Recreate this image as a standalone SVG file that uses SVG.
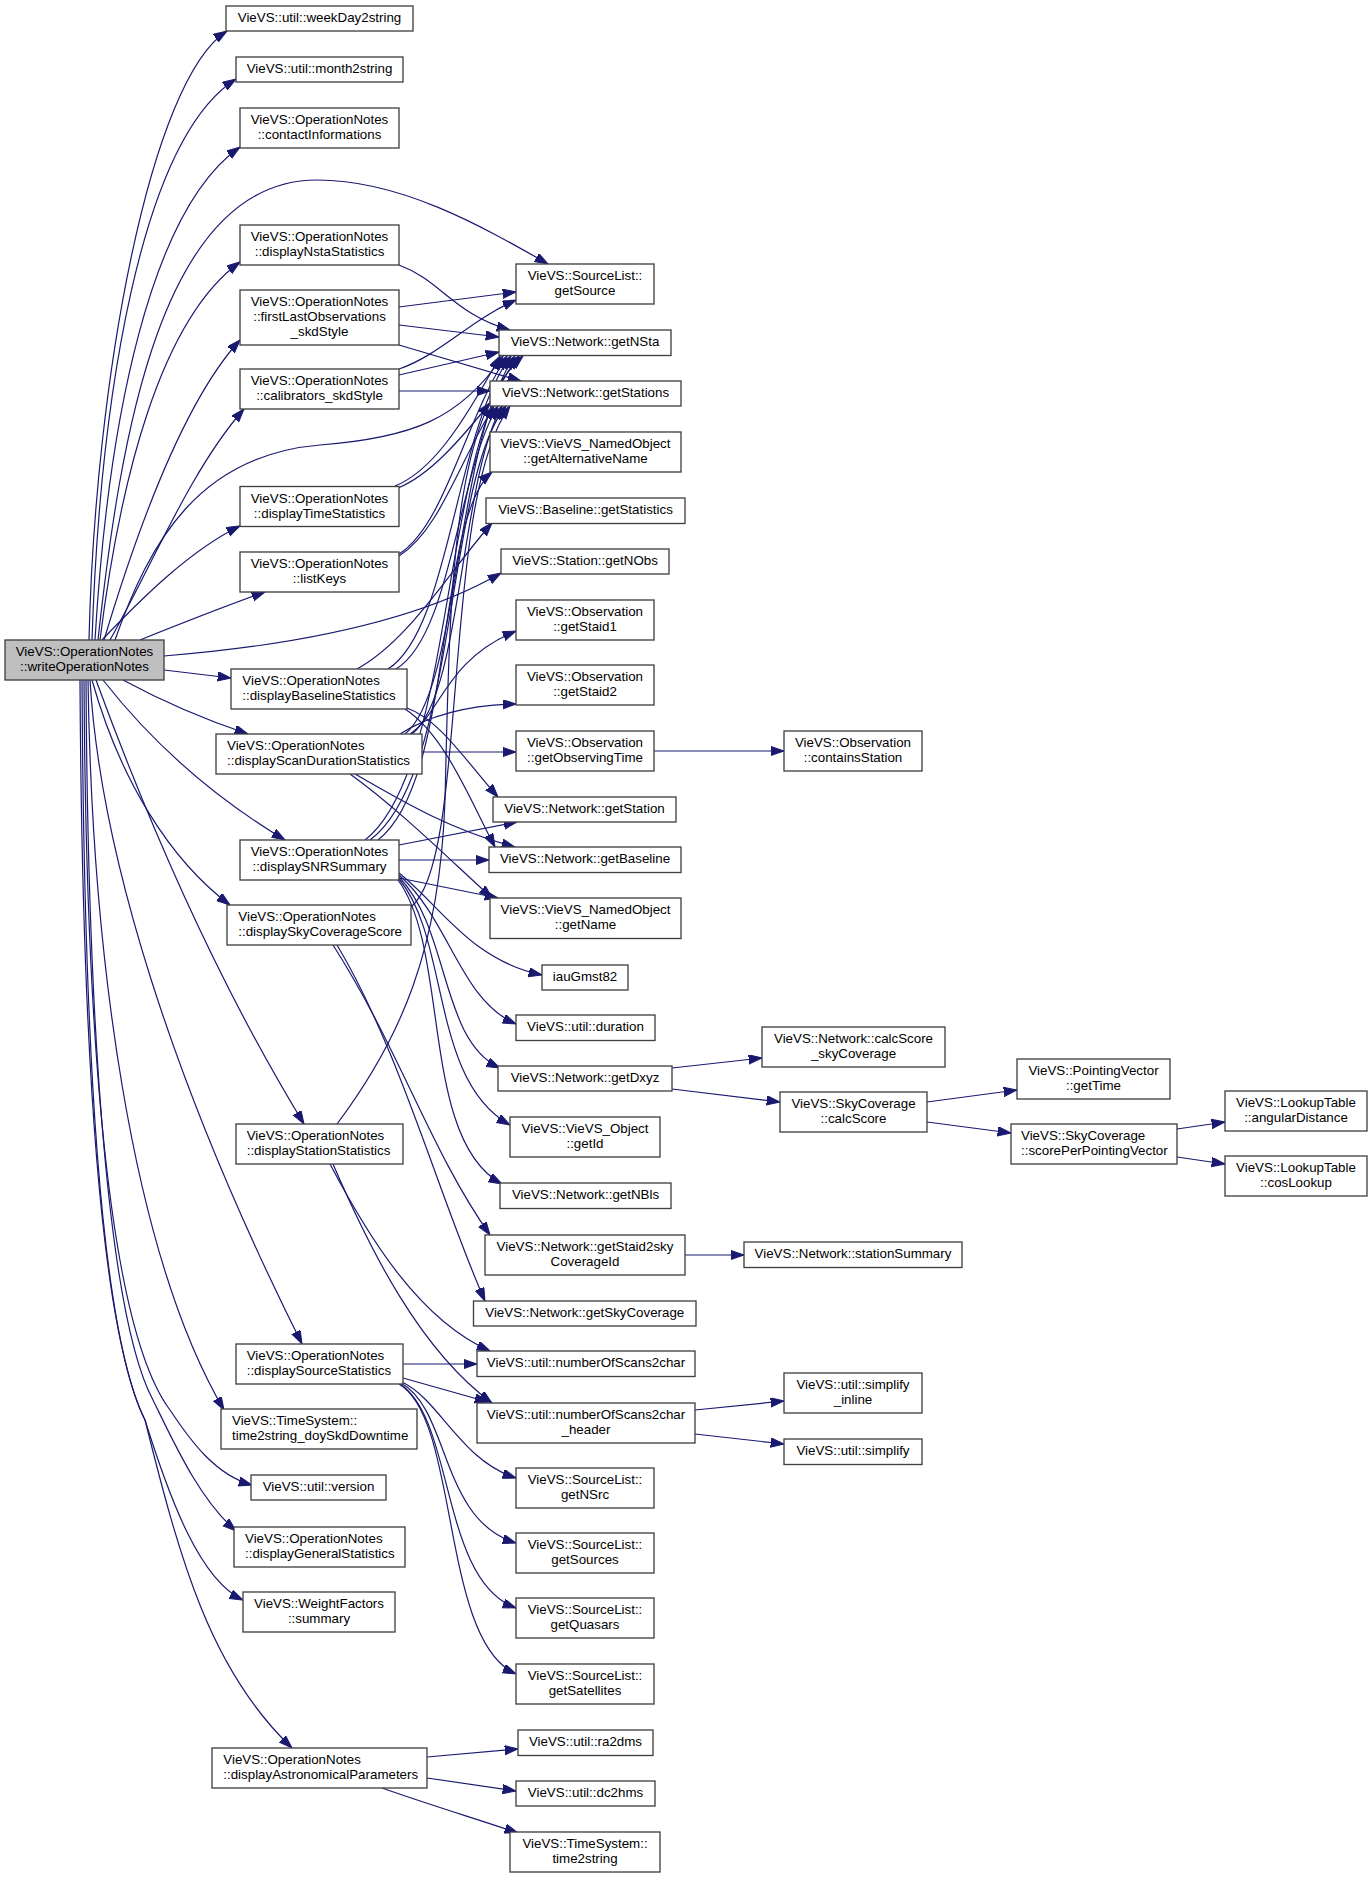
<svg xmlns="http://www.w3.org/2000/svg" width="1372" height="1878" viewBox="0 0 1372 1878">
<style>
.n rect{fill:#ffffff;stroke:#404040;stroke-width:1.33}
.root rect{fill:#bfbfbf}
text{font-family:"Liberation Sans",Arial,Helvetica,sans-serif;font-size:13.33px;fill:#000000}
.c{text-anchor:middle}
#edges path{fill:none;stroke:#191970;stroke-width:1.2;marker-end:url(#arr)}
</style>
<defs>
<marker id="arr" markerUnits="userSpaceOnUse" markerWidth="15" markerHeight="11" refX="13.3" refY="4.65" orient="auto">
<path d="M0,0 L13.3,4.65 L0,9.3 z" fill="#191970" stroke="#191970" stroke-width="1"/>
</marker>
</defs>
<rect x="0" y="0" width="1372" height="1878" fill="#ffffff"/>
<g id="edges">
<path d="M 89,640 C 95,380 150,80 227,31"/>
<path d="M 92,640 C 100,400 140,140 236,79"/>
<path d="M 95,640 C 108,420 150,210 240,147"/>
<path d="M 98,640 C 120,440 160,180 317,180 C 400,180 480,225 548,264"/>
<path d="M 100,640 C 120,480 160,320 240,262"/>
<path d="M 104,640 C 140,520 185,400 240,340"/>
<path d="M 110,640 C 150,570 190,470 244,409"/>
<path d="M 115,640 C 150,540 200,455 320,445 C 410,438 460,420 503,356"/>
<path d="M 102,640 C 140,600 190,550 240,526"/>
<path d="M 140,640 C 180,624 220,608 265,592"/>
<path d="M 164,656 C 300,645 420,620 501,573"/>
<path d="M 164,670 L 231,678"/>
<path d="M 123,680 C 160,700 200,718 248,734"/>
<path d="M 103,680 C 150,740 210,795 285,840"/>
<path d="M 92,680 C 120,780 170,860 230,905"/>
<path d="M 96,680 C 140,800 210,970 304,1124"/>
<path d="M 90,680 C 100,850 170,1080 302,1344"/>
<path d="M 88,680 C 92,950 130,1250 224,1410"/>
<path d="M 84,680 C 86,1050 110,1330 170,1410 C 190,1440 215,1475 252,1485"/>
<path d="M 86,680 C 88,1050 110,1320 153,1400 C 175,1445 200,1500 236,1531"/>
<path d="M 82,680 C 84,1050 100,1330 145,1420 C 170,1500 200,1580 243,1600"/>
<path d="M 80,680 C 82,1050 100,1330 145,1420 C 180,1560 210,1670 292,1748"/>
<path d="M 399,265 C 440,280 455,315 510,330"/>
<path d="M 399,307 L 516,292"/>
<path d="M 399,325 L 499,337"/>
<path d="M 399,345 L 521,381"/>
<path d="M 399,369 C 440,355 470,320 516,300"/>
<path d="M 399,375 L 499,352"/>
<path d="M 399,391 L 490,391"/>
<path d="M 395,486 C 430,472 460,430 500,356"/>
<path d="M 398,488 C 430,475 460,440 490,403"/>
<path d="M 399,554 C 445,525 465,420 507,356"/>
<path d="M 399,556 C 440,530 460,460 494,406"/>
<path d="M 357,669 C 410,640 450,570 492,523"/>
<path d="M 388,669 C 450,630 455,430 511,356"/>
<path d="M 396,669 C 452,635 458,470 498,406"/>
<path d="M 407,708 C 440,720 465,760 498,797"/>
<path d="M 405,709 C 445,735 470,800 495,847"/>
<path d="M 400,734 C 430,715 470,705 516,704"/>
<path d="M 410,734 C 440,715 445,660 516,631"/>
<path d="M 405,734 C 460,690 455,440 515,356"/>
<path d="M 412,734 C 462,695 460,480 502,406"/>
<path d="M 422,752 L 516,752"/>
<path d="M 355,774 C 400,800 450,830 515,847"/>
<path d="M 350,774 C 400,810 450,860 492,898"/>
<path d="M 365,840 C 455,770 440,450 519,356"/>
<path d="M 370,840 C 458,775 445,480 506,406"/>
<path d="M 378,840 C 455,780 435,520 492,472"/>
<path d="M 399,845 L 517,822"/>
<path d="M 399,860 L 489,860"/>
<path d="M 399,878 L 498,898"/>
<path d="M 399,873 C 440,905 470,960 542,975"/>
<path d="M 399,875 C 450,920 460,1000 516,1024"/>
<path d="M 399,877 C 450,930 440,1040 500,1068"/>
<path d="M 399,879 C 450,940 430,1080 510,1125"/>
<path d="M 398,880 C 450,950 420,1140 502,1184"/>
<path d="M 411,907 C 470,860 440,500 510,406"/>
<path d="M 333,945 C 400,1050 430,1150 490,1235"/>
<path d="M 337,945 C 400,1050 440,1200 485,1301"/>
<path d="M 337,1124 C 400,1040 440,950 445,800 C 450,600 450,420 523,356"/>
<path d="M 330,1164 C 370,1240 420,1320 490,1351"/>
<path d="M 333,1164 C 370,1250 420,1350 492,1403"/>
<path d="M 403,1364 L 477,1364"/>
<path d="M 403,1378 L 488,1402"/>
<path d="M 402,1382 C 440,1400 460,1460 516,1478"/>
<path d="M 401,1383 C 450,1410 440,1520 516,1543"/>
<path d="M 400,1384 C 455,1420 440,1580 516,1608"/>
<path d="M 399,1384 C 460,1420 440,1640 516,1674"/>
<path d="M 427,1757 L 518,1749"/>
<path d="M 427,1778 L 516,1791"/>
<path d="M 382,1788 C 430,1805 480,1820 518,1833"/>
<path d="M 654,751 L 784,751"/>
<path d="M 672,1068 L 762,1058"/>
<path d="M 672,1089 L 780,1102"/>
<path d="M 927,1102 L 1017,1090"/>
<path d="M 927,1122 L 1011,1133"/>
<path d="M 1177,1129 L 1225,1122"/>
<path d="M 1177,1157 L 1225,1164"/>
<path d="M 685,1255 L 744,1255"/>
<path d="M 695,1410 L 784,1401"/>
<path d="M 695,1434 L 784,1444"/>
</g>
<g id="n_weekDay2string" class="n"><rect x="226" y="6" width="187" height="25"/><text class="c" x="319.5" y="22.3">VieVS::util::weekDay2string</text></g>
<g id="n_month2string" class="n"><rect x="236" y="57" width="167" height="25"/><text class="c" x="319.5" y="73.3">VieVS::util::month2string</text></g>
<g id="n_contactInformations" class="n"><rect x="240" y="108" width="159" height="40"/><text class="c" x="319.5" y="124.3">VieVS::OperationNotes</text><text class="c" x="319.5" y="139">::contactInformations</text></g>
<g id="n_displayNstaStatistics" class="n"><rect x="240" y="225" width="159" height="40"/><text class="c" x="319.5" y="241.3">VieVS::OperationNotes</text><text class="c" x="319.5" y="256">::displayNstaStatistics</text></g>
<g id="n_firstLastObservations" class="n"><rect x="240" y="290" width="159" height="55"/><text class="c" x="319.5" y="306.3">VieVS::OperationNotes</text><text class="c" x="319.5" y="320.9">::firstLastObservations</text><text class="c" x="319.5" y="335.5">_skdStyle</text></g>
<g id="n_calibrators_skdStyle" class="n"><rect x="240" y="369" width="159" height="40"/><text class="c" x="319.5" y="385.3">VieVS::OperationNotes</text><text class="c" x="319.5" y="400">::calibrators_skdStyle</text></g>
<g id="n_displayTimeStatistics" class="n"><rect x="240" y="486.5" width="159" height="40"/><text class="c" x="319.5" y="502.8">VieVS::OperationNotes</text><text class="c" x="319.5" y="517.5">::displayTimeStatistics</text></g>
<g id="n_listKeys" class="n"><rect x="240" y="552" width="159" height="40"/><text class="c" x="319.5" y="568.3">VieVS::OperationNotes</text><text class="c" x="319.5" y="583">::listKeys</text></g>
<g id="n_writeOperationNotes" class="n root"><rect x="5" y="640" width="159" height="40"/><text class="c" x="84.5" y="656.3">VieVS::OperationNotes</text><text class="c" x="84.5" y="671">::writeOperationNotes</text></g>
<g id="n_displayBaselineStatistics" class="n"><rect x="231" y="669" width="176" height="40"/><text x="242.3" y="685.3">VieVS::OperationNotes</text><text x="242.3" y="700">::displayBaselineStatistics</text></g>
<g id="n_displayScanDurationStatistics" class="n"><rect x="216" y="734" width="206" height="40"/><text x="227" y="750.3">VieVS::OperationNotes</text><text x="227" y="765">::displayScanDurationStatistics</text></g>
<g id="n_displaySNRSummary" class="n"><rect x="240" y="840" width="159" height="40"/><text class="c" x="319.5" y="856.3">VieVS::OperationNotes</text><text class="c" x="319.5" y="871">::displaySNRSummary</text></g>
<g id="n_displaySkyCoverageScore" class="n"><rect x="227" y="905" width="184" height="40"/><text x="238.3" y="921.3">VieVS::OperationNotes</text><text x="238.3" y="936">::displaySkyCoverageScore</text></g>
<g id="n_displayStationStatistics" class="n"><rect x="236" y="1124" width="167" height="40"/><text x="246.7" y="1140.3">VieVS::OperationNotes</text><text x="246.7" y="1155">::displayStationStatistics</text></g>
<g id="n_displaySourceStatistics" class="n"><rect x="236" y="1344" width="167" height="40"/><text x="246.7" y="1360.3">VieVS::OperationNotes</text><text x="246.7" y="1375">::displaySourceStatistics</text></g>
<g id="n_time2string_doySkdDowntime" class="n"><rect x="221" y="1409" width="196" height="40"/><text x="232" y="1425.3">VieVS::TimeSystem::</text><text x="232" y="1440">time2string_doySkdDowntime</text></g>
<g id="n_version" class="n"><rect x="251" y="1475" width="135" height="25"/><text class="c" x="318.5" y="1491.3">VieVS::util::version</text></g>
<g id="n_displayGeneralStatistics" class="n"><rect x="234" y="1527" width="171" height="40"/><text x="245" y="1543.3">VieVS::OperationNotes</text><text x="245" y="1558">::displayGeneralStatistics</text></g>
<g id="n_WeightFactors_summary" class="n"><rect x="243" y="1592" width="152" height="40"/><text class="c" x="319" y="1608.3">VieVS::WeightFactors</text><text class="c" x="319" y="1623">::summary</text></g>
<g id="n_displayAstronomicalParameters" class="n"><rect x="212" y="1748" width="215" height="40"/><text x="223.3" y="1764.3">VieVS::OperationNotes</text><text x="223.3" y="1779">::displayAstronomicalParameters</text></g>
<g id="n_getSource" class="n"><rect x="516" y="264" width="138" height="40"/><text class="c" x="585" y="280.3">VieVS::SourceList::</text><text class="c" x="585" y="295">getSource</text></g>
<g id="n_getNSta" class="n"><rect x="499" y="330" width="172" height="25.5"/><text class="c" x="585" y="346.3">VieVS::Network::getNSta</text></g>
<g id="n_getStations" class="n"><rect x="490" y="381" width="191" height="25"/><text class="c" x="585.5" y="397.3">VieVS::Network::getStations</text></g>
<g id="n_getAlternativeName" class="n"><rect x="490" y="432" width="191" height="40"/><text class="c" x="585.5" y="448.3">VieVS::VieVS_NamedObject</text><text class="c" x="585.5" y="463">::getAlternativeName</text></g>
<g id="n_Baseline_getStatistics" class="n"><rect x="486" y="498" width="199" height="25.5"/><text class="c" x="585.5" y="514.3">VieVS::Baseline::getStatistics</text></g>
<g id="n_Station_getNObs" class="n"><rect x="501" y="549" width="168" height="25"/><text class="c" x="585" y="565.3">VieVS::Station::getNObs</text></g>
<g id="n_getStaid1" class="n"><rect x="516" y="600" width="138" height="40"/><text class="c" x="585" y="616.3">VieVS::Observation</text><text class="c" x="585" y="631">::getStaid1</text></g>
<g id="n_getStaid2" class="n"><rect x="516" y="665" width="138" height="40"/><text class="c" x="585" y="681.3">VieVS::Observation</text><text class="c" x="585" y="696">::getStaid2</text></g>
<g id="n_getObservingTime" class="n"><rect x="516" y="731" width="138" height="40"/><text class="c" x="585" y="747.3">VieVS::Observation</text><text class="c" x="585" y="762">::getObservingTime</text></g>
<g id="n_containsStation" class="n"><rect x="784" y="731" width="138" height="40"/><text class="c" x="853" y="747.3">VieVS::Observation</text><text class="c" x="853" y="762">::containsStation</text></g>
<g id="n_getStation" class="n"><rect x="493" y="797" width="183" height="25"/><text class="c" x="584.5" y="813.3">VieVS::Network::getStation</text></g>
<g id="n_getBaseline" class="n"><rect x="489" y="847" width="192" height="25.5"/><text class="c" x="585" y="863.3">VieVS::Network::getBaseline</text></g>
<g id="n_getName" class="n"><rect x="490" y="898" width="191" height="40.5"/><text class="c" x="585.5" y="914.3">VieVS::VieVS_NamedObject</text><text class="c" x="585.5" y="929">::getName</text></g>
<g id="n_iauGmst82" class="n"><rect x="542" y="965" width="86" height="25"/><text class="c" x="585" y="981.3">iauGmst82</text></g>
<g id="n_duration" class="n"><rect x="516" y="1015" width="139" height="25.5"/><text class="c" x="585.5" y="1031.3">VieVS::util::duration</text></g>
<g id="n_calcScore_skyCoverage" class="n"><rect x="762" y="1027" width="183" height="40"/><text class="c" x="853.5" y="1043.3">VieVS::Network::calcScore</text><text class="c" x="853.5" y="1058">_skyCoverage</text></g>
<g id="n_getDxyz" class="n"><rect x="498" y="1066" width="174" height="25"/><text class="c" x="585" y="1082.3">VieVS::Network::getDxyz</text></g>
<g id="n_SkyCoverage_calcScore" class="n"><rect x="780" y="1092" width="147" height="40"/><text class="c" x="853.5" y="1108.3">VieVS::SkyCoverage</text><text class="c" x="853.5" y="1123">::calcScore</text></g>
<g id="n_getId" class="n"><rect x="510" y="1117" width="150" height="40"/><text class="c" x="585" y="1133.3">VieVS::VieVS_Object</text><text class="c" x="585" y="1148">::getId</text></g>
<g id="n_getNBls" class="n"><rect x="500" y="1183" width="171" height="25.5"/><text class="c" x="585.5" y="1199.3">VieVS::Network::getNBls</text></g>
<g id="n_getStaid2skyCoverageId" class="n"><rect x="485" y="1235" width="200" height="40"/><text class="c" x="585" y="1251.3">VieVS::Network::getStaid2sky</text><text class="c" x="585" y="1266">CoverageId</text></g>
<g id="n_stationSummary" class="n"><rect x="744" y="1242" width="218" height="25.5"/><text class="c" x="853" y="1258.3">VieVS::Network::stationSummary</text></g>
<g id="n_getSkyCoverage" class="n"><rect x="473.5" y="1301" width="222.5" height="25"/><text class="c" x="584.75" y="1317.3">VieVS::Network::getSkyCoverage</text></g>
<g id="n_numberOfScans2char" class="n"><rect x="477" y="1351" width="218" height="25.5"/><text class="c" x="586" y="1367.3">VieVS::util::numberOfScans2char</text></g>
<g id="n_numberOfScans2char_header" class="n"><rect x="477" y="1403" width="218" height="40"/><text class="c" x="586" y="1419.3">VieVS::util::numberOfScans2char</text><text class="c" x="586" y="1434">_header</text></g>
<g id="n_simplify_inline" class="n"><rect x="784" y="1373" width="138" height="40"/><text class="c" x="853" y="1389.3">VieVS::util::simplify</text><text class="c" x="853" y="1404">_inline</text></g>
<g id="n_simplify" class="n"><rect x="784" y="1439" width="138" height="25.5"/><text class="c" x="853" y="1455.3">VieVS::util::simplify</text></g>
<g id="n_getNSrc" class="n"><rect x="516" y="1468" width="138" height="40"/><text class="c" x="585" y="1484.3">VieVS::SourceList::</text><text class="c" x="585" y="1499">getNSrc</text></g>
<g id="n_getSources" class="n"><rect x="516" y="1533" width="138" height="40"/><text class="c" x="585" y="1549.3">VieVS::SourceList::</text><text class="c" x="585" y="1564">getSources</text></g>
<g id="n_getQuasars" class="n"><rect x="516" y="1598" width="138" height="40"/><text class="c" x="585" y="1614.3">VieVS::SourceList::</text><text class="c" x="585" y="1629">getQuasars</text></g>
<g id="n_getSatellites" class="n"><rect x="516" y="1664" width="138" height="40"/><text class="c" x="585" y="1680.3">VieVS::SourceList::</text><text class="c" x="585" y="1695">getSatellites</text></g>
<g id="n_ra2dms" class="n"><rect x="518" y="1730" width="135" height="25.5"/><text class="c" x="585.5" y="1746.3">VieVS::util::ra2dms</text></g>
<g id="n_dc2hms" class="n"><rect x="516" y="1781" width="139" height="25"/><text class="c" x="585.5" y="1797.3">VieVS::util::dc2hms</text></g>
<g id="n_time2string" class="n"><rect x="510" y="1832" width="150" height="40"/><text class="c" x="585" y="1848.3">VieVS::TimeSystem::</text><text class="c" x="585" y="1863">time2string</text></g>
<g id="n_PointingVector_getTime" class="n"><rect x="1017" y="1059" width="153" height="40"/><text class="c" x="1093.5" y="1075.3">VieVS::PointingVector</text><text class="c" x="1093.5" y="1090">::getTime</text></g>
<g id="n_scorePerPointingVector" class="n"><rect x="1011" y="1124" width="166" height="40"/><text x="1021" y="1140.3">VieVS::SkyCoverage</text><text x="1021" y="1155">::scorePerPointingVector</text></g>
<g id="n_angularDistance" class="n"><rect x="1225" y="1091" width="142" height="40"/><text class="c" x="1296" y="1107.3">VieVS::LookupTable</text><text class="c" x="1296" y="1122">::angularDistance</text></g>
<g id="n_cosLookup" class="n"><rect x="1225" y="1156" width="142" height="40"/><text class="c" x="1296" y="1172.3">VieVS::LookupTable</text><text class="c" x="1296" y="1187">::cosLookup</text></g>
</svg>
